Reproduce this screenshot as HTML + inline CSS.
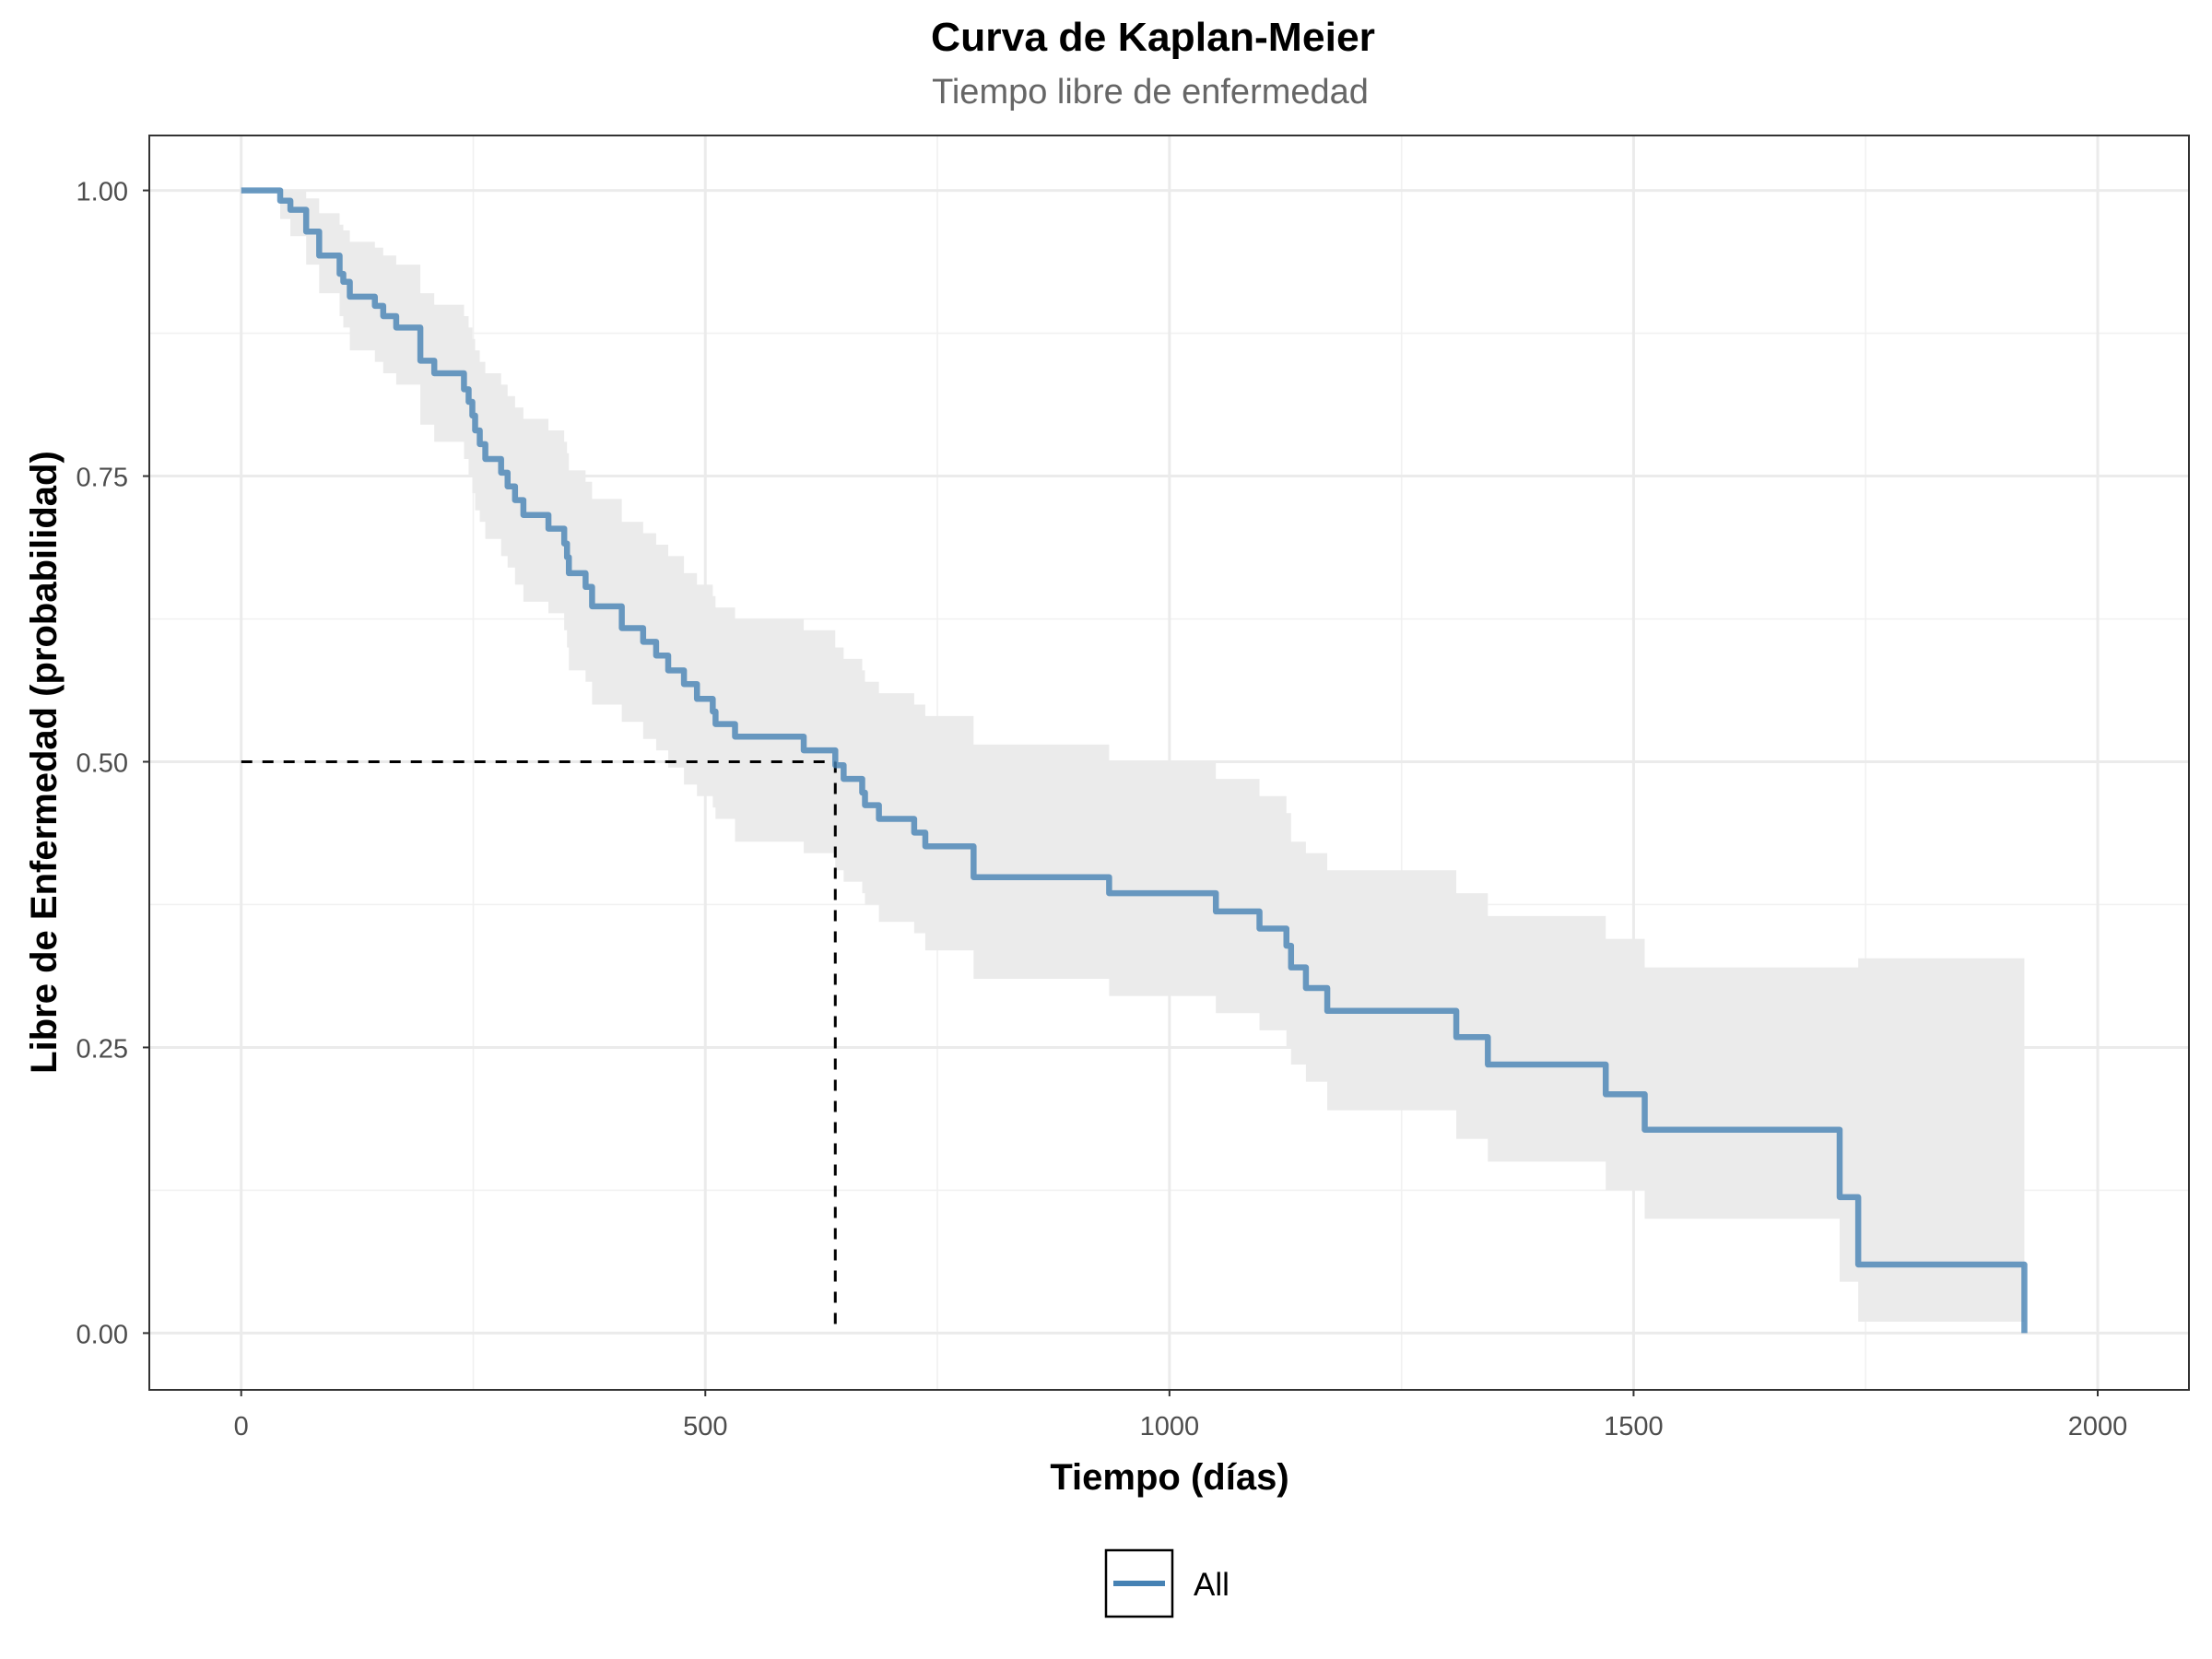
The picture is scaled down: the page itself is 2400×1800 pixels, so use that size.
<!DOCTYPE html>
<html><head><meta charset="utf-8"><style>
html,body{margin:0;padding:0;background:#fff;}
svg{display:block;font-family:"Liberation Sans","DejaVu Sans",sans-serif;}
</style></head><body>
<svg id="chart" width="2400" height="1800" viewBox="0 0 2400 1800" xmlns="http://www.w3.org/2000/svg">
<rect x="0" y="0" width="2400" height="1800" fill="#fff"/>
<text x="1251" y="55" text-anchor="middle" font-size="44" font-weight="bold" fill="#000" textLength="482" lengthAdjust="spacingAndGlyphs">Curva de Kaplan-Meier</text>
<text x="1248" y="112" text-anchor="middle" font-size="38" fill="#666">Tiempo libre de enfermedad</text>
<g id="grid"></g>
<g id="band"></g>
<g id="median"></g>
<g id="curve"></g>
<rect x="162" y="147" width="2213" height="1361" fill="none" stroke="#333" stroke-width="2"/>
<g id="axes"></g>
<text x="1269" y="1616" text-anchor="middle" font-size="40" font-weight="bold" fill="#000">Tiempo (días)</text>
<text transform="translate(61,827) rotate(-90)" text-anchor="middle" font-size="40" font-weight="bold" fill="#000">Libre de Enfermedad (probabilidad)</text>
<g>
<rect x="1200" y="1682" width="72" height="72" fill="#fff" stroke="#000" stroke-width="2.5"/>
<line x1="1208" y1="1718" x2="1264" y2="1718" stroke="#4682b4" stroke-width="6"/>
<text x="1295" y="1731" font-size="35" fill="#000">All</text>
</g>
</svg>
<script>
const times = [0,42,53,70,84,106,110,117,144,153,167,193,208,240,245,249,252,257,263,280,287,295,304,331,348,351,353,371,378,410,433,447,460,477,491,508,511,532,606,640,649,669,672,687,725,737,789,935,1050,1097,1126,1131,1147,1170,1309,1343,1470,1512,1722,1742];
const surv = [1.000,0.991,0.983,0.964,0.943,0.927,0.920,0.907,0.899,0.890,0.880,0.851,0.840,0.826,0.815,0.803,0.790,0.778,0.765,0.753,0.741,0.729,0.716,0.704,0.691,0.679,0.665,0.653,0.636,0.617,0.605,0.593,0.580,0.568,0.555,0.544,0.533,0.522,0.510,0.497,0.485,0.473,0.462,0.450,0.438,0.426,0.399,0.385,0.369,0.354,0.339,0.320,0.302,0.282,0.259,0.235,0.209,0.178,0.119,0.060];
const upper = [1.000,1.000,1.000,0.993,0.980,0.970,0.965,0.955,0.950,0.943,0.935,0.910,0.900,0.890,0.880,0.870,0.860,0.850,0.840,0.830,0.820,0.810,0.800,0.790,0.780,0.770,0.755,0.745,0.730,0.710,0.700,0.690,0.680,0.665,0.655,0.645,0.635,0.625,0.615,0.600,0.590,0.580,0.570,0.560,0.550,0.540,0.515,0.500,0.485,0.470,0.455,0.430,0.420,0.405,0.385,0.365,0.345,0.320,0.320,0.328];
const lower = [1.000,0.975,0.960,0.935,0.910,0.890,0.880,0.860,0.850,0.840,0.830,0.795,0.780,0.765,0.750,0.735,0.720,0.710,0.695,0.680,0.670,0.655,0.640,0.630,0.615,0.600,0.580,0.570,0.550,0.535,0.520,0.510,0.495,0.480,0.470,0.460,0.450,0.430,0.420,0.405,0.395,0.385,0.375,0.360,0.350,0.335,0.310,0.295,0.280,0.265,0.250,0.235,0.220,0.195,0.170,0.150,0.125,0.100,0.045,0.010];
const endTime = 1921;
const medianTime = 640;
const xTicks = [0,500,1000,1500,2000];
const xTickLabels = ["0","500","1000","1500","2000"];
const yTicks = [0,0.25,0.5,0.75,1];
const yTickLabels = ["0.00","0.25","0.50","0.75","1.00"];

const NS = "http://www.w3.org/2000/svg";
const X = t => 261.7 + t * (2276 - 261.7) / 2000;
const Y = p => 1446.4 - p * (1446.4 - 206.6);
function mk(parent, tag, attrs){const e=document.createElementNS(NS,tag);for(const k in attrs)e.setAttribute(k,attrs[k]);document.getElementById(parent).appendChild(e);return e;}

for (let i=0;i<xTicks.length-1;i++){const m=(xTicks[i]+xTicks[i+1])/2;
 const g=mk('grid','line',{x1:X(m),x2:X(m),y1:148,y2:1507,stroke:'#f1f1f1','stroke-width':1.6});
 
 }
for (let i=0;i<yTicks.length-1;i++){const m=(yTicks[i]+yTicks[i+1])/2;
 const g=mk('grid','line',{x1:163,x2:2374,y1:Y(m),y2:Y(m),stroke:'#f1f1f1','stroke-width':1.6});
 
 }
xTicks.forEach((t,i)=>{
 const g=mk('grid','line',{x1:X(t),x2:X(t),y1:148,y2:1507,stroke:'#ebebeb','stroke-width':3});
 
 
 const k=mk('axes','line',{x1:X(t),x2:X(t),y1:1508,y2:1515,stroke:'#333','stroke-width':2});
 
 
 const l=mk('axes','text',{x:X(t),y:1557,'text-anchor':'middle','font-size':29,fill:'#4d4d4d'});
 l.textContent=xTickLabels[i];
 
 
});
yTicks.forEach((p,i)=>{
 const g=mk('grid','line',{x1:163,x2:2374,y1:Y(p),y2:Y(p),stroke:'#ebebeb','stroke-width':3});
 
 
 const k=mk('axes','line',{x1:155,x2:162,y1:Y(p),y2:Y(p),stroke:'#333','stroke-width':2});
 
 
 const l=mk('axes','text',{x:139,y:Y(p)+11,'text-anchor':'end','font-size':29,fill:'#4d4d4d'});
 l.textContent=yTickLabels[i];
 
 
});

let up='', lo='';
for (let i=0;i<times.length;i++){
 const t0=times[i], t1=(i+1<times.length)?times[i+1]:endTime;
 up += (i===0?'M':'L')+X(t0)+','+Y(upper[i])+' L'+X(t1)+','+Y(upper[i])+' ';
}
for (let i=times.length-1;i>=0;i--){
 const t0=times[i], t1=(i+1<times.length)?times[i+1]:endTime;
 lo += 'L'+X(t1)+','+Y(lower[i])+' L'+X(t0)+','+Y(lower[i])+' ';
}
const band=mk('band','path',{d:up+lo+'Z',fill:'#ebebeb'});



const mh=mk('median','line',{x1:X(0),x2:X(medianTime),y1:Y(0.5),y2:Y(0.5),stroke:'#000','stroke-width':3,'stroke-dasharray':'12,11'});


const mv=mk('median','line',{x1:X(medianTime),x2:X(medianTime),y1:Y(0.5),y2:Y(0),stroke:'#000','stroke-width':3,'stroke-dasharray':'12,11'});



let d='M'+X(times[0])+','+Y(surv[0]);
for (let i=1;i<times.length;i++){ d+=' L'+X(times[i])+','+Y(surv[i-1])+' L'+X(times[i])+','+Y(surv[i]); }
d+=' L'+X(endTime)+','+Y(surv[surv.length-1])+' L'+X(endTime)+','+Y(0);
const c=mk('curve','path',{d:d,fill:'none',stroke:'#4682b4','stroke-opacity':0.8,'stroke-width':6.5,'stroke-linejoin':'round'});


</script>
</body></html>
